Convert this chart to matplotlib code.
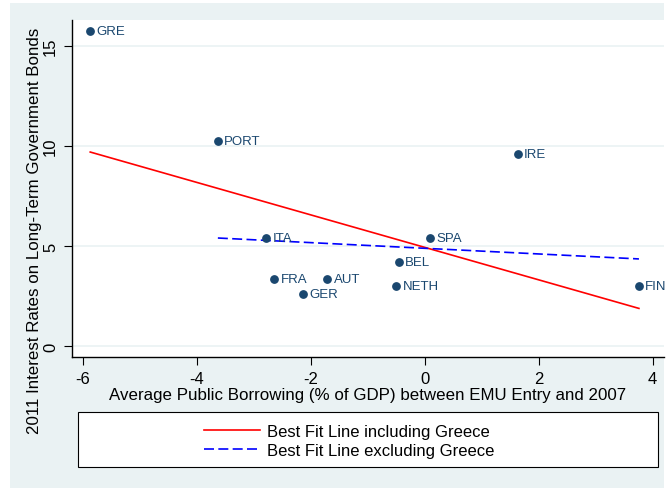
import matplotlib.pyplot as plt
import numpy as np
from matplotlib.patches import Rectangle

plt.rcParams['font.family'] = ['Liberation Sans', 'DejaVu Sans']
plt.rcParams['axes.unicode_minus'] = False

countries = ['GRE', 'PORT', 'IRE', 'ITA', 'SPA', 'BEL', 'NETH', 'FIN', 'FRA', 'AUT', 'GER']
borrowing = np.array([-5.87, -3.63, 1.63, -2.78, 0.09, -0.45, -0.50, 3.76, -2.64, -1.71, -2.13])
rates = np.array([15.77, 10.25, 9.58, 5.41, 5.42, 4.18, 2.98, 2.98, 3.33, 3.33, 2.58])

navy = '#1a476f'
bg = '#eaf2f3'

fig = plt.figure(figsize=(6.68, 4.89), dpi=100)
W, H = 668, 489

# Stata-like outer panel
fig.patches.append(Rectangle((10 / W, 0), 654 / W, 485 / H, transform=fig.transFigure,
                             facecolor=bg, edgecolor='none', zorder=-10))

ax = fig.add_axes([72 / W, (H - 358) / H, 592 / W, 337 / H])
ax.set_facecolor('white')

ax.scatter(borrowing, rates, s=28, color=navy, zorder=3)
for c, x, y in zip(countries, borrowing, rates):
    ax.annotate(c, (x, y), xytext=(4.5, 0), textcoords='offset points',
                va='center', ha='left', fontsize=9.5, color=navy, zorder=4)

# fit lines
b1, a1 = np.polyfit(borrowing, rates, 1)
xs1 = np.array([borrowing.min(), borrowing.max()])
l1, = ax.plot(xs1, a1 + b1 * xs1, color='red', lw=1.2, zorder=2,
              label='Best Fit Line including Greece')

mask = np.array([c != 'GRE' for c in countries])
b2, a2 = np.polyfit(borrowing[mask], rates[mask], 1)
xs2 = np.array([borrowing[mask].min(), borrowing[mask].max()])
l2, = ax.plot(xs2, a2 + b2 * xs2, color='blue', lw=1.2, ls=(0, (6, 2.6)), zorder=2,
              label='Best Fit Line excluding Greece')

ax.set_xlim(-6.19, 4.2)
ax.set_ylim(-0.55, 16.3)
ax.set_xticks([-6, -4, -2, 0, 2, 4])
ax.set_yticks([0, 5, 10, 15])
ax.grid(axis='y', color=bg, lw=1.2)
ax.set_axisbelow(True)
for s in ['top', 'right']:
    ax.spines[s].set_visible(False)
for s in ['left', 'bottom']:
    ax.spines[s].set_color('black')
    ax.spines[s].set_linewidth(1.0)
ax.tick_params(axis='both', labelsize=12, length=6, pad=4, color='black')
plt.setp(ax.get_yticklabels(), rotation=90, va='center')

ax.set_xlabel('Average Public Borrowing (% of GDP) between EMU Entry and 2007', fontsize=12.2, labelpad=1)
ax.set_ylabel('2011 Interest Rates on Long-Term Government Bonds', fontsize=12.2)
ax.yaxis.set_label_coords(-0.05, 0.377)

# legend box
fig.patches.append(Rectangle((78 / W, (H - 468) / H), 580 / W, 55 / H, transform=fig.transFigure,
                             facecolor='white', edgecolor='black', lw=0.8, zorder=1))
fig.legend(handles=[l1, l2], loc='center', bbox_to_anchor=(349 / W, (H - 442) / H),
           frameon=False, fontsize=12, handlelength=3.4, handletextpad=0.4,
           labelspacing=0.25, borderpad=0)

fig.savefig('out.png', dpi=100, facecolor='white')
